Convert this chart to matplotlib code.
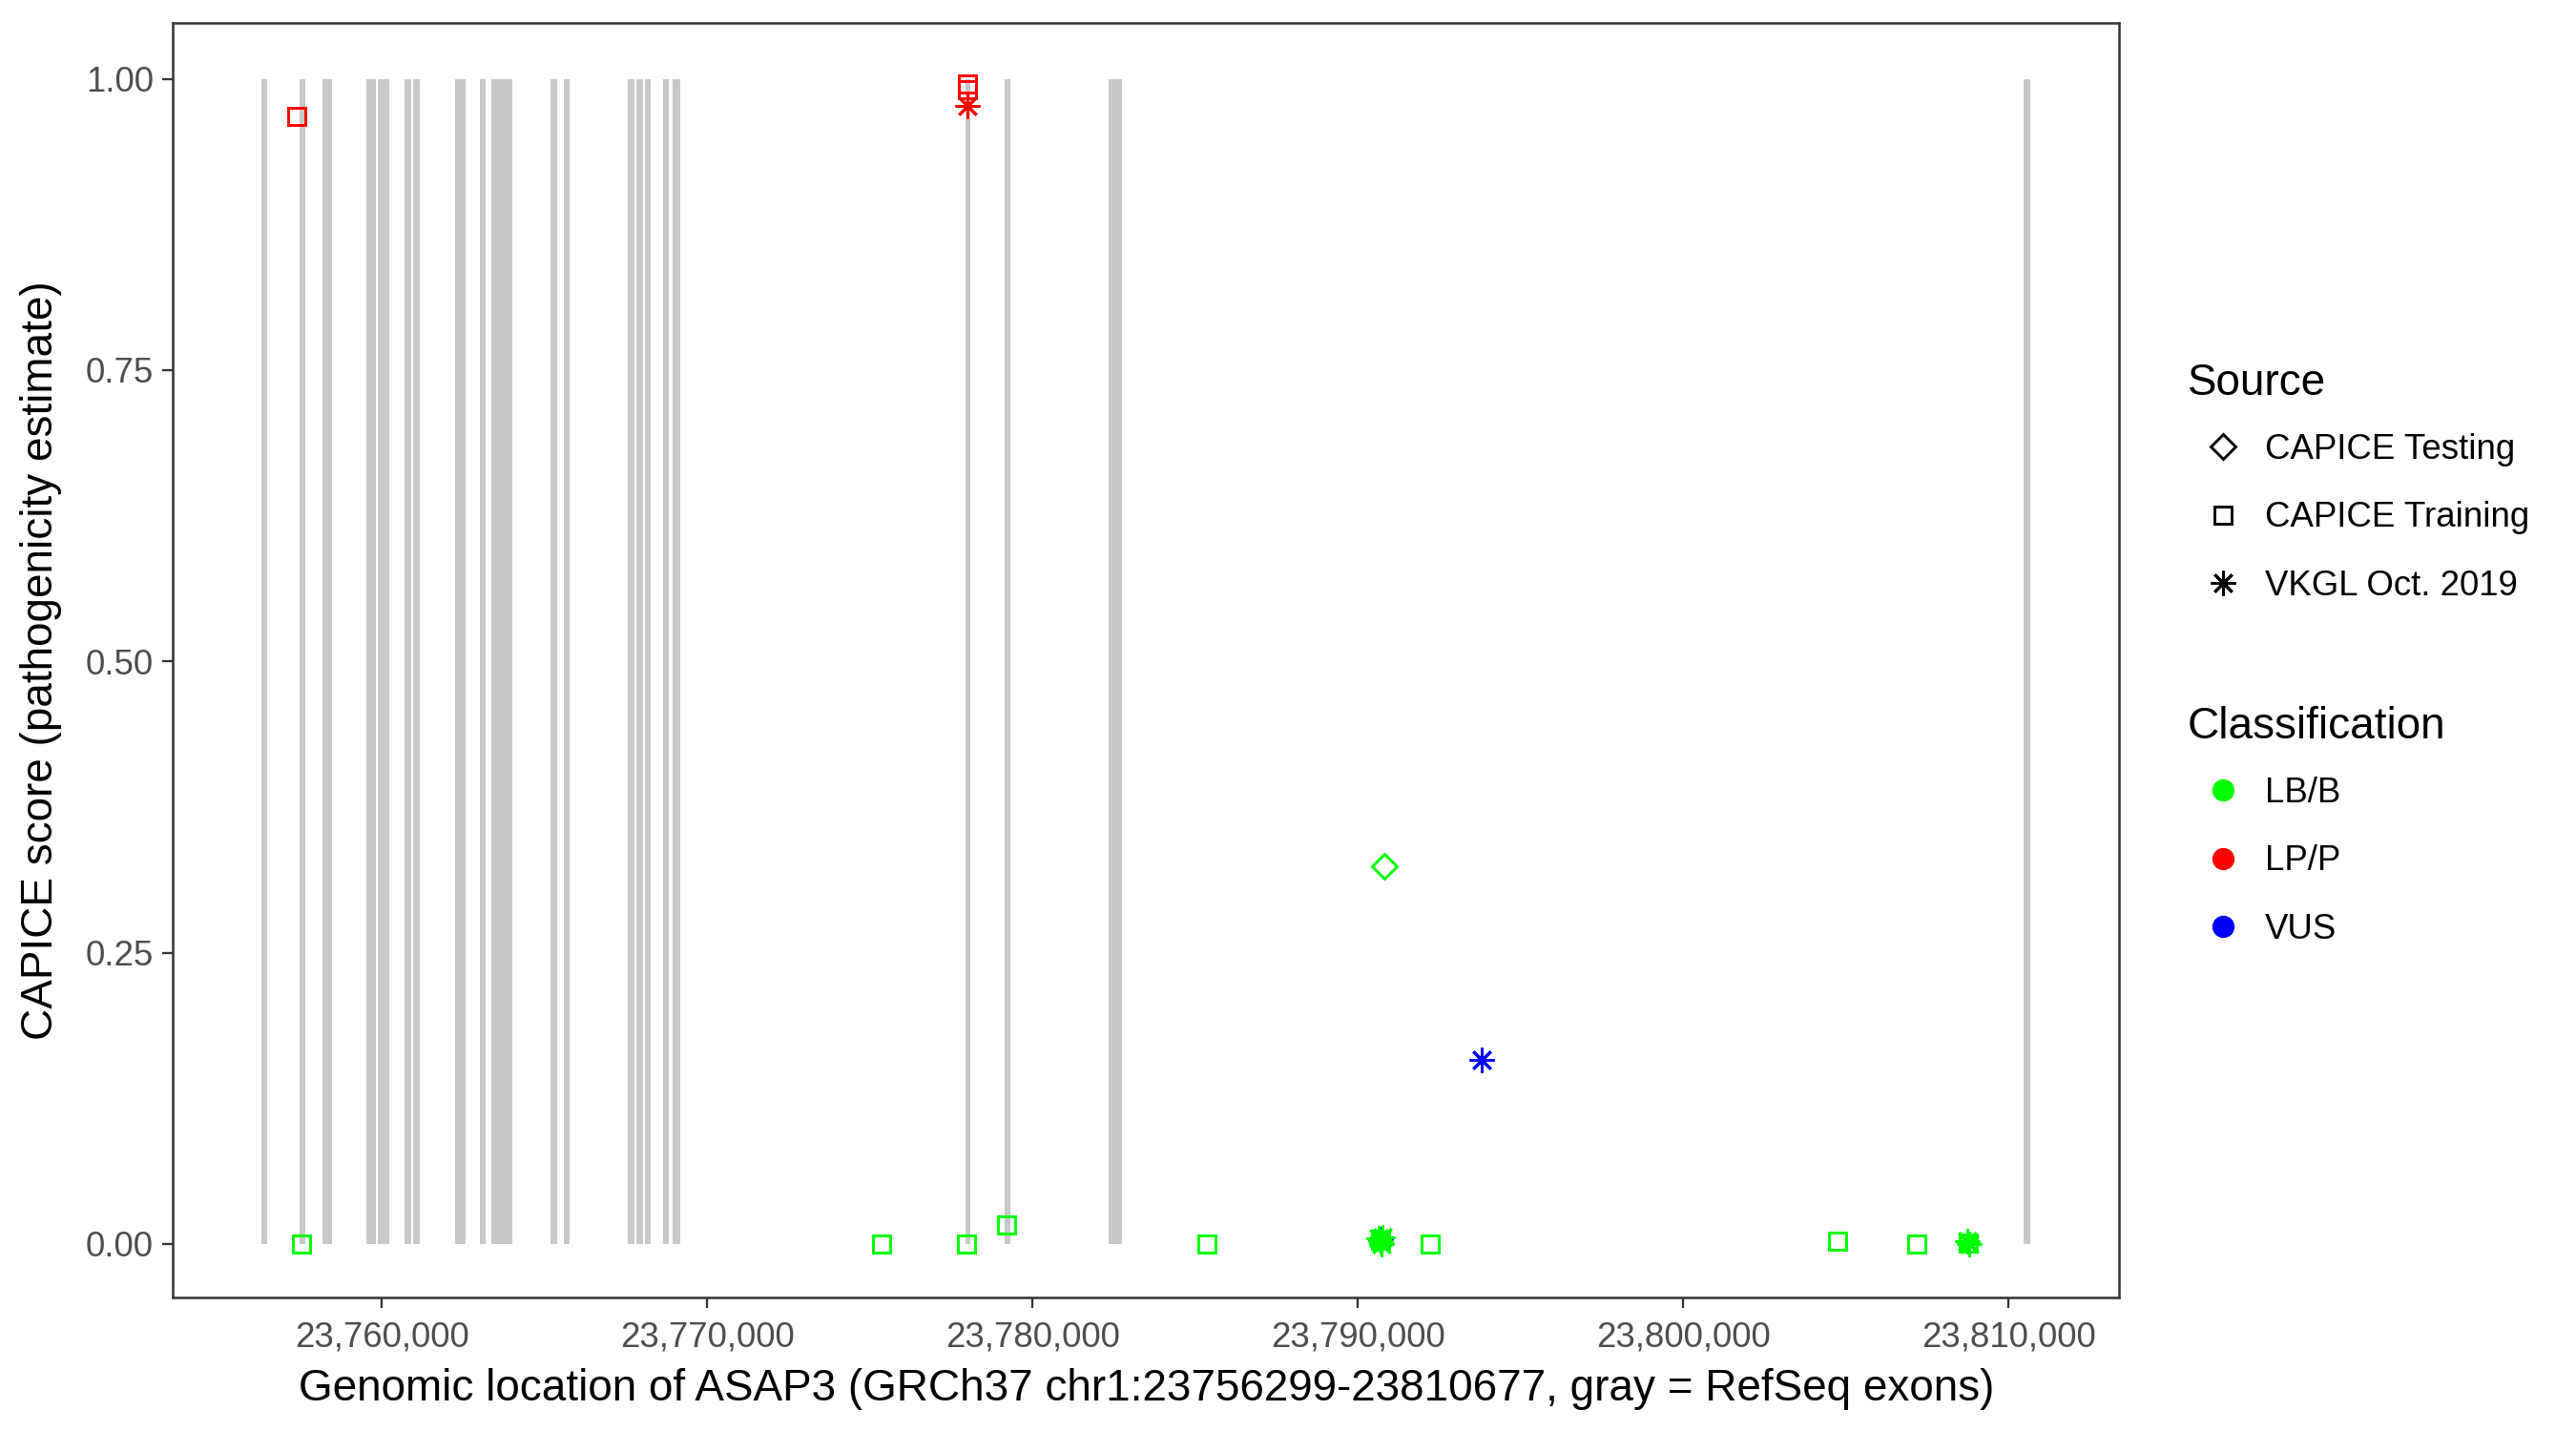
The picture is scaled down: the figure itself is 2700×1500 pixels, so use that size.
import matplotlib
matplotlib.use("Agg")
import matplotlib.pyplot as plt
from matplotlib.lines import Line2D
from matplotlib.ticker import FuncFormatter

plt.rcParams['font.family'] = ['Liberation Sans', 'DejaVu Sans']

# gene region ASAP3, GRCh37 chr1
gene_start = 23756299
gene_end = 23810677

# RefSeq exons (start, end)
exon_start = [23756299, 23757477, 23758157, 23759528, 23759883, 23760700, 23760964,
              23762257, 23763016, 23763370, 23765188, 23765598, 23767559, 23767825,
              23768089, 23768646, 23768939, 23777931, 23779135, 23782327, 23810450]
exon_end = [23756483, 23757655, 23758473, 23759821, 23760232, 23760909, 23761172,
            23762576, 23763195, 23764015, 23765393, 23765774, 23767767, 23768030,
            23768265, 23768822, 23769170, 23778086, 23779317, 23782743, 23810677]

# variants
var_pos = [23757383, 23778010, 23778010,
           23757541, 23775346, 23777966, 23779191, 23785369, 23790706, 23792221,
           23804745, 23807174, 23808763,
           23790803,
           23778010, 23793792, 23790706,
           23790650, 23790700, 23790760, 23790720, 23808780, 23808740]
var_score = [0.968, 0.996, 0.991,
             0.0, 0.0, 0.0, 0.016, 0.0, 0.003, 0.0,
             0.002, 0.0, 0.001,
             0.324,
             0.977, 0.158, 0.004,
             0.005, 0.002, 0.006, 0.0, 0.0, 0.002]
var_source = ['CAPICE Training'] * 13 + ['CAPICE Testing'] + ['VKGL Oct. 2019'] * 9
var_class = ['LP/P', 'LP/P', 'LP/P',
             'LB/B', 'LB/B', 'LB/B', 'LB/B', 'LB/B', 'LB/B', 'LB/B',
             'LB/B', 'LB/B', 'LB/B',
             'LB/B',
             'LP/P', 'VUS', 'VUS',
             'LB/B', 'LB/B', 'LB/B', 'LB/B', 'LB/B', 'LB/B']

class_names = ['LB/B', 'LP/P', 'VUS']
class_colors = {'LB/B': '#00FF00', 'LP/P': '#FF0000', 'VUS': '#0000FF'}
source_names = ['CAPICE Testing', 'CAPICE Training', 'VKGL Oct. 2019']
source_markers = {'CAPICE Testing': ('D', 4.3), 'CAPICE Training': ('s', 4.3),
                  'VKGL Oct. 2019': ((8, 2, 0), 6.2)}

fig = plt.figure(figsize=(9, 5), dpi=300)
ax = fig.add_axes([0.0672, 0.0933, 0.8226 - 0.0672, 0.984 - 0.0933])

# exons as gray bars from 0 to 1
widths = [e - s for s, e in zip(exon_start, exon_end)]
ax.bar(exon_start, [1] * len(exon_start), width=widths, bottom=0, align='edge',
       color='#C8C8C8', linewidth=0, zorder=1)

# VUS first so the green ones sit on top, like the original
order = sorted(range(len(var_pos)), key=lambda i: 0 if var_class[i] == 'VUS' else 1)
for i in order:
    m, ms = source_markers[var_source[i]]
    ax.plot(var_pos[i], var_score[i], linestyle='none', marker=m, markersize=ms,
            markerfacecolor='none', markeredgecolor=class_colors[var_class[i]],
            markeredgewidth=0.7, zorder=3)

span = gene_end - gene_start
ax.set_xlim(gene_start - 0.05 * span, gene_end + 0.05 * span)
ax.set_ylim(-0.046, 1.048)
ax.set_xticks([23760000, 23770000, 23780000, 23790000, 23800000, 23810000])
ax.set_yticks([0, 0.25, 0.5, 0.75, 1.0])
ax.xaxis.set_major_formatter(FuncFormatter(lambda v, p: '{:,.0f}'.format(v)))
ax.yaxis.set_major_formatter(FuncFormatter(lambda v, p: '{:.2f}'.format(v)))
ax.tick_params(length=2.75, width=0.55, color='#333333', labelsize=8.8,
               labelcolor='#4D4D4D', pad=2.2)
ax.tick_params(axis='x', pad=3.0)
for sp in ax.spines.values():
    sp.set_color('#333333')
    sp.set_linewidth(0.6)

ax.set_xlabel('Genomic location of ASAP3 (GRCh37 chr1:23756299-23810677, gray = RefSeq exons)',
              fontsize=11, labelpad=3.6)
ax.set_ylabel('CAPICE score (pathogenicity estimate)', fontsize=11, labelpad=6)

# legends
src_handles = [Line2D([], [], linestyle='none', marker=source_markers[s][0],
                      markersize=source_markers[s][1], markerfacecolor='none',
                      markeredgecolor='black', markeredgewidth=0.7, label=s)
               for s in source_names]
cls_handles = [Line2D([], [], linestyle='none', marker='o', markersize=4.6,
                      markerfacecolor=class_colors[c], markeredgecolor=class_colors[c],
                      label=c) for c in class_names]

leg1 = fig.legend(handles=src_handles, title='Source', loc='upper left',
                  bbox_to_anchor=(0.8425, 0.759), frameon=False, fontsize=8.8,
                  title_fontsize=11, alignment='left', handlelength=2.0,
                  handletextpad=0.2, labelspacing=1.0, borderpad=0)
leg2 = fig.legend(handles=cls_handles, title='Classification', loc='upper left',
                  bbox_to_anchor=(0.8425, 0.519), frameon=False, fontsize=8.8,
                  title_fontsize=11, alignment='left', handlelength=2.0,
                  handletextpad=0.2, labelspacing=1.0, borderpad=0)
# a bit less room between legend title and first key
for leg in (leg1, leg2):
    leg._legend_box.sep = 7.2

fig.savefig('out.png', dpi=300)
